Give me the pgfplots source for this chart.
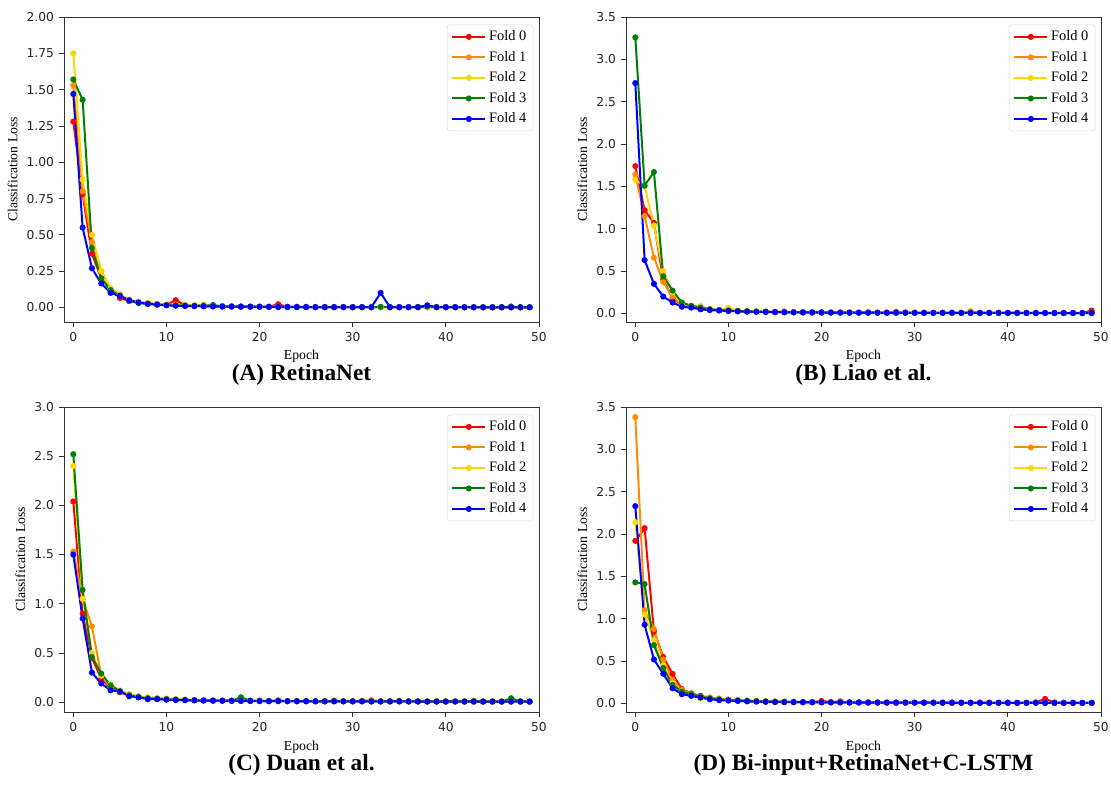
\documentclass[border=0pt]{standalone}
\usepackage{pgfplots}
\pgfplotsset{compat=1.18}
\usepackage{pgfplotstable}
\usepackage{fontspec}
\setmainfont{Liberation Serif}
\newfontfamily\dejavu{DejaVu Sans}
\definecolor{cR}{HTML}{FF0000}
\definecolor{cO}{HTML}{FF8C00}
\definecolor{cY}{HTML}{FFD700}
\definecolor{cG}{HTML}{008000}
\definecolor{cB}{HTML}{0000FF}

\pgfplotstableread{
e f0 f1 f2 f3 f4
0 1.28 1.53 1.75 1.57 1.47
1 0.78 0.80 0.88 1.43 0.55
2 0.37 0.45 0.50 0.41 0.27
3 0.20 0.25 0.25 0.20 0.165
4 0.12 0.13 0.13 0.12 0.10
5 0.065 0.09 0.085 0.08 0.08
6 0.045 0.05 0.055 0.045 0.05
7 0.035 0.04 0.04 0.03 0.035
8 0.025 0.03 0.03 0.025 0.025
9 0.02 0.025 0.022 0.02 0.02
10 0.018 0.02 0.018 0.016 0.015
11 0.05 0.018 0.016 0.014 0.012
12 0.015 0.016 0.014 0.012 0.01
13 0.012 0.014 0.012 0.011 0.009
14 0.01 0.018 0.011 0.01 0.008
15 0.009 0.01 0.01 0.017 0.007
16 0.008 0.009 0.009 0.008 0.006
17 0.007 0.008 0.008 0.007 0.006
18 0.006 0.007 0.007 0.006 0.005
19 0.006 0.006 0.006 0.005 0.005
20 0.005 0.006 0.005 0.005 0.004
21 0.005 0.005 0.005 0.004 0.004
22 0.022 0.005 0.004 0.004 0.003
23 0.004 0.004 0.004 0.004 0.003
24 0.004 0.004 0.004 0.003 0.003
25 0.003 0.004 0.003 0.003 0.003
26 0.003 0.003 0.003 0.003 0.002
27 0.003 0.003 0.003 0.003 0.002
28 0.003 0.003 0.003 0.002 0.002
29 0.003 0.004 0.003 0.002 0.002
30 0.002 0.003 0.002 0.002 0.002
31 0.002 0.003 0.002 0.002 0.002
32 0.002 0.002 0.002 0.002 0.002
33 0.002 0.002 0.002 0.004 0.100
34 0.002 0.002 0.002 0.003 0.002
35 0.002 0.002 0.002 0.002 0.002
36 0.002 0.002 0.002 0.002 0.002
37 0.002 0.002 0.002 0.003 0.002
38 0.002 0.002 0.002 0.006 0.015
39 0.002 0.002 0.002 0.002 0.002
40 0.002 0.002 0.002 0.002 0.002
41 0.002 0.003 0.002 0.002 0.002
42 0.002 0.002 0.002 0.002 0.002
43 0.002 0.002 0.002 0.002 0.001
44 0.002 0.002 0.002 0.002 0.001
45 0.001 0.002 0.001 0.002 0.001
46 0.001 0.002 0.001 0.002 0.001
47 0.001 0.002 0.001 0.007 0.001
48 0.001 0.001 0.001 0.002 0.001
49 0.001 0.001 0.001 0.002 0.001
}\dataA

\pgfplotstableread{
e f0 f1 f2 f3 f4
0 1.74 1.64 1.58 3.26 2.72
1 1.22 1.15 1.50 1.51 0.63
2 1.07 0.66 1.04 1.67 0.35
3 0.40 0.37 0.50 0.44 0.20
4 0.18 0.20 0.25 0.27 0.13
5 0.10 0.10 0.12 0.13 0.08
6 0.08 0.09 0.09 0.09 0.07
7 0.07 0.085 0.08 0.07 0.05
8 0.05 0.05 0.05 0.05 0.04
9 0.04 0.04 0.04 0.04 0.035
10 0.035 0.035 0.07 0.035 0.03
11 0.03 0.03 0.03 0.03 0.025
12 0.025 0.028 0.025 0.025 0.022
13 0.022 0.024 0.022 0.022 0.02
14 0.02 0.022 0.02 0.02 0.018
15 0.018 0.02 0.018 0.018 0.016
16 0.017 0.025 0.017 0.016 0.015
17 0.016 0.017 0.016 0.015 0.014
18 0.015 0.016 0.015 0.014 0.013
19 0.014 0.015 0.014 0.013 0.013
20 0.013 0.014 0.013 0.012 0.012
21 0.012 0.013 0.012 0.012 0.011
22 0.012 0.012 0.012 0.011 0.011
23 0.011 0.012 0.011 0.011 0.010
24 0.011 0.012 0.011 0.010 0.010
25 0.010 0.016 0.010 0.010 0.010
26 0.010 0.011 0.010 0.010 0.009
27 0.010 0.011 0.010 0.009 0.009
28 0.020 0.010 0.010 0.009 0.009
29 0.010 0.010 0.009 0.009 0.009
30 0.009 0.010 0.009 0.009 0.008
31 0.009 0.010 0.009 0.008 0.008
32 0.009 0.009 0.009 0.008 0.008
33 0.009 0.009 0.008 0.008 0.008
34 0.008 0.009 0.008 0.008 0.008
35 0.008 0.009 0.008 0.008 0.007
36 0.008 0.028 0.008 0.008 0.007
37 0.008 0.010 0.008 0.007 0.007
38 0.008 0.009 0.008 0.007 0.007
39 0.008 0.008 0.007 0.007 0.007
40 0.007 0.008 0.007 0.007 0.007
41 0.007 0.008 0.007 0.007 0.006
42 0.007 0.008 0.007 0.007 0.006
43 0.007 0.008 0.007 0.006 0.006
44 0.007 0.007 0.007 0.006 0.006
45 0.007 0.007 0.006 0.006 0.006
46 0.006 0.007 0.006 0.006 0.006
47 0.006 0.007 0.006 0.006 0.006
48 0.006 0.007 0.006 0.006 0.005
49 0.035 0.007 0.006 0.012 0.005
}\dataB

\pgfplotstableread{
e f0 f1 f2 f3 f4
0 2.04 1.53 2.40 2.52 1.50
1 0.90 1.05 1.05 1.14 0.85
2 0.45 0.77 0.50 0.46 0.30
3 0.24 0.27 0.27 0.29 0.19
4 0.14 0.15 0.18 0.17 0.12
5 0.10 0.11 0.12 0.11 0.11
6 0.07 0.08 0.08 0.07 0.06
7 0.05 0.06 0.06 0.05 0.05
8 0.04 0.045 0.05 0.04 0.03
9 0.035 0.04 0.04 0.035 0.03
10 0.03 0.035 0.035 0.03 0.025
11 0.026 0.03 0.03 0.026 0.022
12 0.022 0.026 0.026 0.022 0.02
13 0.02 0.022 0.022 0.02 0.018
14 0.018 0.02 0.02 0.018 0.016
15 0.016 0.018 0.018 0.016 0.015
16 0.015 0.016 0.016 0.015 0.014
17 0.014 0.015 0.015 0.014 0.013
18 0.013 0.015 0.014 0.05 0.012
19 0.012 0.014 0.013 0.015 0.011
20 0.012 0.018 0.012 0.012 0.011
21 0.011 0.012 0.012 0.011 0.010
22 0.011 0.012 0.011 0.018 0.010
23 0.010 0.011 0.011 0.010 0.010
24 0.010 0.011 0.010 0.010 0.009
25 0.010 0.011 0.010 0.010 0.009
26 0.009 0.010 0.010 0.009 0.009
27 0.009 0.010 0.009 0.009 0.008
28 0.015 0.010 0.009 0.009 0.008
29 0.009 0.010 0.009 0.009 0.008
30 0.008 0.009 0.009 0.008 0.008
31 0.012 0.014 0.008 0.008 0.008
32 0.008 0.022 0.008 0.008 0.007
33 0.008 0.009 0.008 0.008 0.007
34 0.008 0.009 0.008 0.008 0.007
35 0.008 0.009 0.008 0.014 0.007
36 0.007 0.008 0.008 0.008 0.007
37 0.007 0.008 0.007 0.007 0.007
38 0.007 0.008 0.007 0.007 0.006
39 0.007 0.012 0.007 0.007 0.006
40 0.007 0.008 0.007 0.007 0.006
41 0.007 0.008 0.007 0.007 0.006
42 0.006 0.008 0.007 0.007 0.006
43 0.006 0.007 0.007 0.012 0.006
44 0.006 0.007 0.006 0.006 0.006
45 0.006 0.007 0.006 0.006 0.006
46 0.006 0.007 0.006 0.006 0.005
47 0.006 0.007 0.006 0.040 0.005
48 0.006 0.007 0.006 0.008 0.005
49 0.005 0.006 0.006 0.006 0.005
}\dataC

\pgfplotstableread{
e f0 f1 f2 f3 f4
0 1.92 3.38 2.14 1.43 2.33
1 2.07 1.10 1.05 1.41 0.93
2 0.85 0.88 0.75 0.69 0.52
3 0.55 0.52 0.45 0.42 0.35
4 0.35 0.28 0.24 0.22 0.18
5 0.17 0.16 0.14 0.14 0.11
6 0.12 0.12 0.10 0.11 0.09
7 0.09 0.08 0.06 0.08 0.07
8 0.07 0.07 0.06 0.06 0.05
9 0.055 0.06 0.055 0.05 0.04
10 0.045 0.045 0.04 0.04 0.035
11 0.04 0.035 0.035 0.035 0.03
12 0.035 0.03 0.03 0.03 0.025
13 0.03 0.026 0.026 0.026 0.022
14 0.026 0.023 0.023 0.023 0.02
15 0.023 0.021 0.021 0.021 0.018
16 0.021 0.019 0.019 0.019 0.017
17 0.019 0.018 0.018 0.018 0.016
18 0.018 0.017 0.017 0.017 0.015
19 0.017 0.016 0.016 0.016 0.014
20 0.03 0.015 0.015 0.015 0.014
21 0.016 0.015 0.014 0.014 0.013
22 0.025 0.014 0.014 0.014 0.013
23 0.014 0.013 0.013 0.013 0.012
24 0.013 0.013 0.013 0.013 0.012
25 0.013 0.012 0.012 0.012 0.011
26 0.012 0.012 0.012 0.012 0.011
27 0.012 0.011 0.011 0.011 0.011
28 0.011 0.011 0.011 0.011 0.010
29 0.011 0.011 0.011 0.011 0.010
30 0.011 0.010 0.010 0.010 0.010
31 0.010 0.010 0.010 0.010 0.010
32 0.010 0.010 0.010 0.010 0.009
33 0.010 0.010 0.010 0.010 0.009
34 0.010 0.009 0.009 0.009 0.009
35 0.009 0.009 0.009 0.009 0.009
36 0.009 0.009 0.009 0.009 0.009
37 0.012 0.009 0.009 0.009 0.008
38 0.009 0.009 0.009 0.009 0.008
39 0.009 0.009 0.008 0.009 0.008
40 0.009 0.008 0.008 0.008 0.008
41 0.008 0.008 0.008 0.008 0.008
42 0.008 0.008 0.008 0.008 0.008
43 0.012 0.008 0.008 0.012 0.008
44 0.055 0.008 0.008 0.008 0.008
45 0.012 0.008 0.008 0.008 0.007
46 0.008 0.008 0.008 0.008 0.007
47 0.008 0.008 0.007 0.008 0.007
48 0.008 0.007 0.007 0.007 0.007
49 0.007 0.007 0.007 0.007 0.007
}\dataD

\pgfplotsset{
  lossaxis/.style={
    scale only axis, width=356.25pt, height=228.75pt, anchor=south west,
    xmin=-1, xmax=50, xtick={0,10,...,50}, ymin=-0.1,
    tick pos=left, tick align=outside, major tick length=4pt,
    axis line style={black!80, line width=0.6pt},
    tick style={black!80, line width=0.6pt},
    ticklabel style={font=\dejavu\fontsize{9.2}{11}\selectfont, text=black!85},
    /pgf/number format/assume math mode=true,
    xlabel={Epoch}, ylabel={Classification Loss},
    label style={font=\fontsize{10.3}{12}\selectfont},
    legend style={at={(rel axis cs:0.988,0.975)}, anchor=north east,
      draw=black!15, rounded corners=2pt, font=\fontsize{10.8}{12}\selectfont,
      row sep=2.4pt, inner xsep=3pt, inner ysep=2.5pt},
    legend cell align=left,
    legend image code/.code={\draw[mark repeat=2,mark phase=2] plot coordinates {(0pt,0pt)(12.5pt,0pt)(25pt,0pt)};},
    every axis plot/.append style={line width=1.5pt, mark=*, mark size=1.5pt},
  },
}
\newcommand{\folds}[1]{%
  \addplot[cR] table[x=e,y=f0] {#1};
  \addplot[cO] table[x=e,y=f1] {#1};
  \addplot[cY] table[x=e,y=f2] {#1};
  \addplot[cG] table[x=e,y=f3] {#1};
  \addplot[cB] table[x=e,y=f4] {#1};
  \legend{Fold 0,Fold 1,Fold 2,Fold 3,Fold 4}%
}

\begin{document}
\begin{tikzpicture}
\useasboundingbox (0,0) rectangle (833.25pt,588.75pt);

\begin{axis}[lossaxis, at={(48pt,347.25pt)}, ymax=2.0, ytick={0,0.25,...,2.0},
  yticklabel style={/pgf/number format/fixed, /pgf/number format/fixed zerofill, /pgf/number format/precision=2}]
\folds{\dataA}
\end{axis}

\begin{axis}[lossaxis, at={(469.5pt,347.25pt)}, ymax=3.5, ytick={0,0.5,...,3.5},
  yticklabel style={/pgf/number format/fixed, /pgf/number format/fixed zerofill, /pgf/number format/precision=1}]
\folds{\dataB}
\end{axis}

\begin{axis}[lossaxis, at={(48pt,54.75pt)}, ymax=3.0, ytick={0,0.5,...,3.0},
  yticklabel style={/pgf/number format/fixed, /pgf/number format/fixed zerofill, /pgf/number format/precision=1}]
\folds{\dataC}
\end{axis}

\begin{axis}[lossaxis, at={(469.5pt,54.75pt)}, ymax=3.5, ytick={0,0.5,...,3.5},
  yticklabel style={/pgf/number format/fixed, /pgf/number format/fixed zerofill, /pgf/number format/precision=1}]
\folds{\dataD}
\end{axis}

\begin{scope}[every node/.style={font=\bfseries\fontsize{17.5}{20}\selectfont, anchor=base}]
\node at (226.125pt,303pt) {(A) RetinaNet};
\node at (647.625pt,303pt) {(B) Liao et al.};
\node at (226.125pt,10.5pt) {(C) Duan et al.};
\node at (647.625pt,10.5pt) {(D) Bi-input+RetinaNet+C-LSTM};
\end{scope}
\end{tikzpicture}
\end{document}
